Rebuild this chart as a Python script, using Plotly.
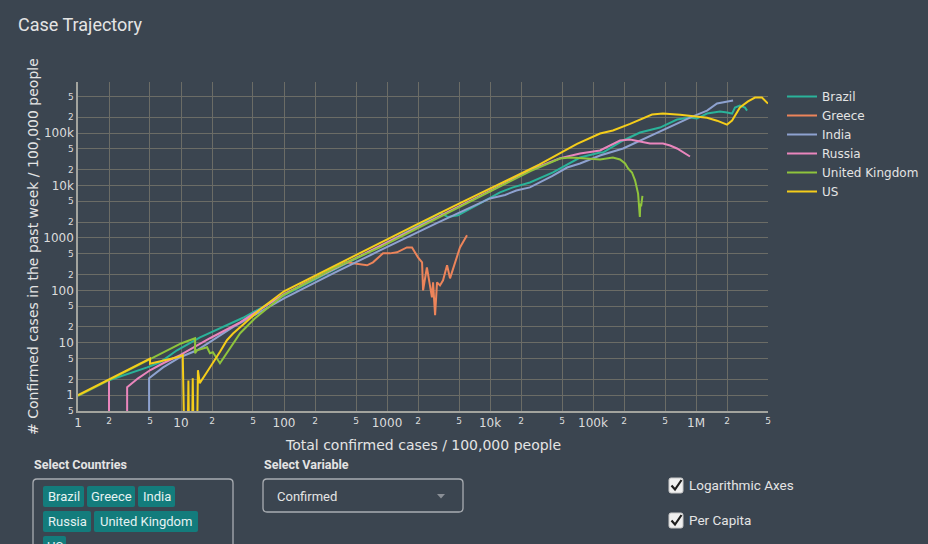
import plotly.graph_objects as go

# ---------------------------------------------------------------------------
# Data: total confirmed cases per 100k (x) vs. confirmed cases in the past
# week per 100k (y), one trajectory per country.
# ---------------------------------------------------------------------------
countries = ["Brazil", "Greece", "India", "Russia", "United Kingdom", "US"]
line_colors = ["#2ab39a", "#ec845a", "#8ea2d0", "#ea86bd", "#8fc43c", "#f5cd1a"]

brazil_total = [2.0, 3.2, 4.7, 6.25, 9.15, 15.3, 40, 100, 300, 855, 2000, 3270,
                3910, 4890, 8000, 12500, 16700, 24400, 40900, 74800, 117000,
                125000, 196000, 286000, 447000, 654000, 874000, 1020000,
                1280000, 1710000, 2000000, 2240000, 2390000, 2670000, 2990000,
                3130000]
brazil_weekly = [1.93, 2.6, 3.4, 4.25, 7.2, 12.7, 30, 80, 240, 690, 1700, 3000,
                 2500, 2700, 4540, 7360, 9200, 11400, 17700, 34100, 42500,
                 42500, 72000, 102000, 127000, 181000, 197000, 189000, 235000,
                 257000, 246000, 235000, 306000, 334000, 306000, 268000]

greece_total = [143, 280, 400, 640, 731, 915, 1070, 1250, 1560, 1750, 2000, 2190,
                2240, 2440, 2610, 2730, 2800, 2930, 3060, 3270, 3500, 3830, 4090,
                4570, 5110, 5980]
greece_weekly = [124, 240, 342, 300, 342, 507, 507, 530, 659, 659, 425, 342,
                 100, 274, 136, 73.6, 142, 33.4, 142, 124, 155, 300, 169, 327,
                 659, 1120]

india_total = [4.9, 4.9, 6.7, 9.8, 14.3, 20.4, 31.9, 100, 300, 855, 3000, 10000,
               14000, 18000, 24400, 40000, 56000, 74800, 117000, 196000, 334000,
               523000, 874000, 1280000, 1600000, 2290000]
india_weekly = [0.1, 2.1, 3.4, 5.3, 7.2, 11.2, 19.8, 70, 210, 576, 1900, 5650,
                6600, 8000, 9200, 15000, 22000, 26200, 37300, 50700, 82000,
                127000, 197000, 268000, 365000, 416000]

russia_total = [2.0, 2.0, 3.0, 3.0, 3.83, 5.0, 6.7, 9.8, 19.1, 37.5, 100, 300,
                855, 3000, 10000, 25000, 48000, 74800, 117000, 183000, 229000,
                286000, 357000, 478000, 560000, 654000, 748000, 874000]
russia_weekly = [1.93, 0.1, 0.1, 1.42, 2.1, 2.99, 4.07, 5.8, 12.2, 24.6, 85,
                 250, 688, 2400, 7900, 20000, 33000, 40700, 46400, 72000, 75200,
                 68900, 63100, 63100, 57800, 50700, 42500, 35700]

uk_total = [1, 2, 4, 7, 10, 13.7, 13.7, 14.3, 17.9, 19.1, 20.4, 23.9, 27.9, 37.5,
            52, 98, 300, 855, 3000, 10000, 25000, 47900, 59800, 80000, 117000,
            156000, 183000, 205000, 219000, 239000, 256000, 274000, 280000,
            285000, 288000, 293000, 302000]
uk_weekly = [0.97, 1.95, 3.9, 6.8, 9.7, 12.2, 6.3, 7.2, 8.2, 6.3, 6.6, 4.07, 6.3,
             15.2, 29, 80, 260, 659, 2300, 7600, 19000, 32700, 34100, 33000,
             31300, 34100, 31300, 26200, 21100, 17700, 12500, 7000, 4000, 2500,
             4500, 4000, 6300]

us_total = [1, 1.6, 2.5, 3.6, 5.0, 5.0, 7.0, 9.2, 10.4, 10.8, 11.6, 11.8, 12.0,
            12.8, 13.0, 13.3, 14.3, 14.6, 15.2, 17.5, 20.4, 24, 27.9, 32, 37.5,
            45, 60, 100, 200, 400, 855, 2000, 5000, 12000, 30000, 70000, 117000,
            156000, 229000, 374000, 478000, 700000, 1020000, 1280000, 1600000,
            2000000, 2240000, 2670000, 3200000, 3740000, 4370000, 5000000]
us_weekly = [1, 1.6, 2.5, 3.6, 5.0, 4.0, 4.6, 5.3, 5.8, 0.1, 0.1, 1.9, 0.1, 0.1,
             2.1, 0.1, 0.1, 3.0, 1.7, 2.6, 4.1, 6.8, 11.2, 15, 19.8, 27, 45, 96,
             190, 380, 821, 1850, 4500, 10500, 25000, 62000, 98000, 112000,
             149000, 225000, 235000, 222000, 206000, 195000, 172000, 145000,
             173000, 306000, 400000, 474000, 474000, 365000]

series_x = [brazil_total, greece_total, india_total, russia_total, uk_total, us_total]
series_y = [brazil_weekly, greece_weekly, india_weekly, russia_weekly, uk_weekly, us_weekly]

# Dashboard controls shown under the chart
selected_countries = countries
variable_choice = "Confirmed"
checkbox_labels = ["Logarithmic Axes", "Per Capita"]

# ---------------------------------------------------------------------------
BG = "#3b4550"
TEXT = "#e4e4e4"
GRID = "#6b6c66"
W, H = 928, 544
L, R, T, B = 78, 160, 82, 133
PW, PH = W - L - R, H - T - B
CHART_FONT = "DejaVu Sans"
UI_FONT = "Roboto"


def fx(p):
    """Pixel column -> paper x."""
    return (p - L) / PW


def fy(p):
    """Pixel row -> paper y."""
    return (H - B - p) / PH


def rounded_rect(x0, y0, x1, y1, r):
    pts = [
        ("M", [(x0 + r, y0)]), ("L", [(x1 - r, y0)]), ("Q", [(x1, y0), (x1, y0 + r)]),
        ("L", [(x1, y1 - r)]), ("Q", [(x1, y1), (x1 - r, y1)]), ("L", [(x0 + r, y1)]),
        ("Q", [(x0, y1), (x0, y1 - r)]), ("L", [(x0, y0 + r)]), ("Q", [(x0, y0), (x0 + r, y0)]),
    ]
    parts = []
    for cmd, coords in pts:
        parts.append(cmd + " ".join(f"{fx(a):.5f},{fy(b):.5f}" for a, b in coords))
    return " ".join(parts) + " Z"


def poly(points, close=False):
    s = "M" + " L".join(f"{fx(a):.5f},{fy(b):.5f}" for a, b in points)
    return s + (" Z" if close else "")


fig = go.Figure()
for name, xs, ys, col in zip(countries, series_x, series_y, line_colors):
    fig.add_trace(go.Scatter(
        x=xs, y=ys, name=name, mode="lines",
        line=dict(color=col, width=2), hoverinfo="skip",
    ))

shapes = []
annotations = []

# Title and axis titles
annotations.append(dict(text="Case Trajectory", x=fx(16), y=fy(25), xref="paper", yref="paper",
                        xanchor="left", yanchor="middle", showarrow=False,
                        font=dict(family=UI_FONT, size=18, color=TEXT)))
annotations.append(dict(text="# Confirmed cases in the past week / 100,000 people",
                        x=fx(33), y=fy(247), xref="paper", yref="paper", textangle=-90,
                        xanchor="center", yanchor="middle", showarrow=False,
                        font=dict(family=CHART_FONT, size=14, color=TEXT)))
annotations.append(dict(text="Total confirmed cases / 100,000 people",
                        x=fx(423), y=fy(445), xref="paper", yref="paper",
                        xanchor="center", yanchor="middle", showarrow=False,
                        font=dict(family=CHART_FONT, size=14, color=TEXT)))

# Country multi-select
annotations.append(dict(text="<b>Select Countries</b>", x=fx(32), y=fy(464), xref="paper", yref="paper",
                        xanchor="left", yanchor="middle", showarrow=False,
                        font=dict(family=UI_FONT, size=12.5, color=TEXT)))
shapes.append(dict(type="path", xref="paper", yref="paper", path=rounded_rect(33, 479, 233, 580, 4),
                   line=dict(color="#a9adb2", width=1.3), fillcolor="rgba(0,0,0,0)"))
tag_boxes = [(43, 486, 84), (87, 486, 135), (138, 486, 175),
             (43, 511, 91), (94, 511, 198), (43, 536, 66)]
for label, (tx0, ty0, tx1) in zip(selected_countries, tag_boxes):
    shapes.append(dict(type="path", xref="paper", yref="paper",
                       path=rounded_rect(tx0, ty0, tx1, ty0 + 21, 2),
                       line=dict(width=0), fillcolor="#137c7c"))
    annotations.append(dict(text=label, x=fx((tx0 + tx1) / 2), y=fy(ty0 + 10.5),
                            xref="paper", yref="paper", xanchor="center", yanchor="middle",
                            showarrow=False, font=dict(family=UI_FONT, size=13, color="#e6f2f2")))

# Variable dropdown
annotations.append(dict(text="<b>Select Variable</b>", x=fx(262), y=fy(464), xref="paper", yref="paper",
                        xanchor="left", yanchor="middle", showarrow=False,
                        font=dict(family=UI_FONT, size=12.5, color=TEXT)))
shapes.append(dict(type="path", xref="paper", yref="paper", path=rounded_rect(263, 479, 463, 512, 4),
                   line=dict(color="#a9adb2", width=1.3), fillcolor="rgba(0,0,0,0)"))
annotations.append(dict(text=variable_choice, x=fx(275), y=fy(496), xref="paper", yref="paper",
                        xanchor="left", yanchor="middle", showarrow=False,
                        font=dict(family=UI_FONT, size=13, color=TEXT)))
shapes.append(dict(type="path", xref="paper", yref="paper",
                   path=poly([(437, 494), (445, 494), (441, 498.5)], close=True),
                   line=dict(width=0), fillcolor="#8a8f96"))

# Checkboxes
for i, label in enumerate(checkbox_labels):
    cy = 485 + 35 * i
    shapes.append(dict(type="path", xref="paper", yref="paper",
                       path=rounded_rect(669, cy - 7, 683, cy + 8, 2),
                       line=dict(color="#c8c8c8", width=1), fillcolor="#f0f0f0"))
    shapes.append(dict(type="path", xref="paper", yref="paper",
                       path=poly([(671.5, cy + 0.5), (675, cy + 4.5), (681.5, cy - 5)]),
                       line=dict(color="#1e1e1e", width=2.2)))
    annotations.append(dict(text=label, x=fx(687), y=fy(cy - 0.5), xref="paper", yref="paper",
                            xanchor="left", yanchor="middle", showarrow=False,
                            font=dict(family=UI_FONT, size=13.5, color=TEXT)))

axis_common = dict(
    type="log", dtick="D2", showgrid=True, gridcolor=GRID, gridwidth=1,
    showline=True, linecolor="#a3a49e", linewidth=1.5, ticks="",
    tickfont=dict(family=CHART_FONT, size=12, color="#dcdcdc"),
    zeroline=False, fixedrange=True,
)

fig.update_layout(
    width=W, height=H,
    margin=dict(l=L, r=R, t=T, b=B, pad=0, autoexpand=False),
    paper_bgcolor=BG, plot_bgcolor=BG,
    showlegend=True,
    legend=dict(x=fx(782), y=1.0, xanchor="left", yanchor="top",
                bgcolor="rgba(0,0,0,0)", font=dict(family=CHART_FONT, size=12, color=TEXT),
                tracegroupgap=0),
    xaxis=dict(range=[0, 6.699], **axis_common),
    yaxis=dict(range=[-0.301, 5.973], **axis_common),
    shapes=shapes,
    annotations=annotations,
    hovermode=False,
)

fig.write_html("out.html", config={"displayModeBar": False})
